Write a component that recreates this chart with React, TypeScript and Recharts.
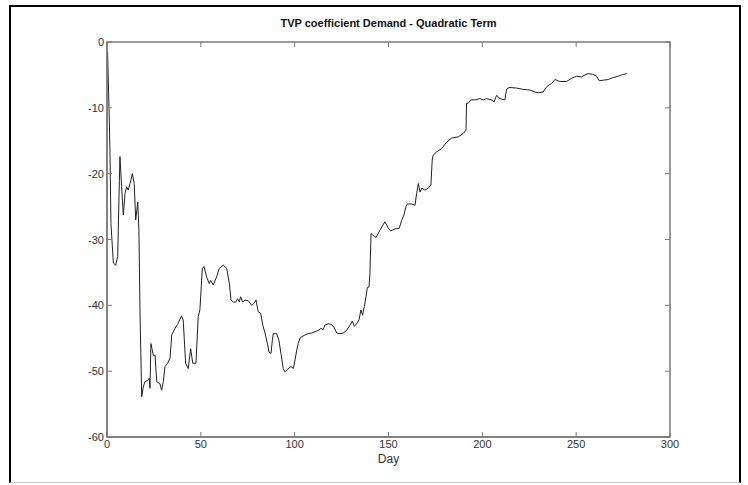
import { LineChart, Line, XAxis, YAxis, ReferenceArea } from 'recharts'

// TVP coefficient (quadratic demand term)
const days = [
  0.3, 1.1, 1.6, 2.1, 3.4, 4.6, 5.7, 6.0, 6.6, 6.9,
  7.8, 8.7, 9.6, 10.5, 11.3, 12.3, 13.5, 14.5, 15.3, 16.4,
  17.0, 17.6, 18.5, 19.3, 20.2, 21.7, 22.5, 22.9, 23.4, 24.7,
  25.6, 26.5, 28.2, 29.1, 30.0, 30.9, 32.3, 33.6, 34.5, 36.2,
  37.6, 39.7, 40.6, 41.9, 43.3, 44.6, 45.7, 47.4, 48.6, 49.5,
  50.8, 51.7, 53.1, 54.5, 55.2, 56.6, 58.4, 59.8, 62.0, 63.8,
  65.2, 66.1, 67.3, 68.6, 69.6, 70.5, 71.2, 72.3, 73.5, 75.3,
  77.1, 78.3, 79.4, 80.6, 81.9, 83.0, 84.2, 85.6, 86.3, 87.4,
  88.1, 88.6, 90.4, 91.6, 92.7, 93.9, 94.8, 96.3, 98.0, 99.3,
  100.2, 101.1, 101.9, 102.8, 103.7, 105.5, 107.2, 109.1, 110.8, 112.6,
  114.0, 115.2, 116.1, 117.9, 119.7, 121.1, 122.4, 124.1, 125.9, 127.7,
  129.5, 130.7, 131.8, 133.0, 134.3, 135.3, 136.2, 137.1, 138.0, 138.7,
  139.6, 140.1, 140.7, 141.6, 143.3, 145.4, 148.1, 149.9, 151.1, 153.4,
  155.7, 157.0, 158.2, 159.3, 160.0, 162.3, 164.1, 165.0, 165.9, 166.8,
  167.7, 169.4, 171.2, 172.6, 173.3, 173.8, 175.6, 178.3, 181.0, 183.6,
  187.2, 189.8, 191.3, 191.6, 192.5, 193.8, 196.1, 198.7, 200.5, 202.3,
  205.0, 206.2, 207.6, 209.4, 212.0, 212.9, 214.3, 218.3, 221.8, 225.4,
  228.0, 229.8, 232.4, 234.3, 235.6, 236.9, 238.7, 241.3, 244.9, 247.6,
  250.2, 252.9, 254.7, 256.4, 258.8, 260.9, 262.3, 264.4, 267.1, 269.7,
  272.4, 274.2, 276.9,
]

const values = [
  -1.5, -10.3, -16.9, -27.6, -33.6, -33.9, -32.6, -28.6, -21, -17.4,
  -22, -26.3, -23, -22, -22.5, -21.5, -20, -21.5, -27, -24.3,
  -28.6, -41.2, -53.9, -52.4, -51.6, -51.4, -51.1, -52.6, -45.8, -47.6,
  -47.6, -51.6, -51.9, -52.9, -51.6, -49.3, -48.8, -48, -44.5, -43.5,
  -42.9, -41.6, -42.2, -48.8, -49.6, -46.6, -48.8, -48.8, -41.7, -40.7,
  -34.4, -34.1, -35.7, -36.7, -36.2, -36.9, -35.7, -34.4, -33.9, -34.4,
  -36.7, -39.2, -39.5, -39.5, -39, -39.5, -38.7, -39.5, -39.2, -39.3,
  -40, -39.7, -39.2, -41, -41.2, -43, -44.2, -46, -47.1, -47.3,
  -45.3, -44.3, -44.3, -45.3, -47.3, -49.6, -50.1, -49.7, -49.3, -49.6,
  -48.3, -46.8, -45.8, -45, -44.8, -44.5, -44.3, -44.2, -44, -43.8,
  -43.5, -43.7, -43, -42.8, -42.9, -43.4, -44.2, -44.3, -44.2, -43.8,
  -43, -42.4, -43.2, -42.8, -42.2, -40.7, -41.5, -40.2, -38.7, -37.3,
  -37.2, -35.2, -29.1, -29.3, -29.7, -28.6, -27.3, -28.3, -28.7, -28.4,
  -28.3, -27.1, -26.3, -25, -24.6, -24.6, -24.8, -23, -21.5, -22.8,
  -22.2, -22.5, -22.2, -21.7, -17.9, -17.2, -16.7, -16.2, -15.2, -14.6,
  -14.4, -13.9, -13.4, -9.3, -9.3, -8.8, -8.8, -8.6, -8.8, -8.6,
  -8.8, -9.1, -8.1, -8.6, -8.8, -7.2, -6.9, -7, -7.2, -7.3,
  -7.6, -7.7, -7.6, -6.8, -6.5, -6.3, -5.7, -6, -6, -5.5,
  -5.2, -5.3, -5, -4.8, -4.9, -5.2, -5.9, -5.8, -5.7, -5.4,
  -5.2, -5, -4.8,
]

const xTicks = [0, 50, 100, 150, 200, 250, 300]
const yTicks = [-60, -50, -40, -30, -20, -10, 0]

const data = days.map((d, i) => ({ day: d, value: values[i] }))

const W = 748
const H = 485
const PLOT_LEFT = 107
const PLOT_RIGHT = 670
const PLOT_TOP = 42
const PLOT_BOTTOM = 437
const TICK_LEN = 5
const AXIS = '#7a7a7a'
const LABEL = '#333'
const FONT = '"Liberation Sans", Arial, sans-serif'

function XTick({ x, payload }: { x?: number; payload?: { value: number } }) {
  if (x == null || !payload) return null
  return (
    <g>
      <line x1={x} x2={x} y1={PLOT_BOTTOM} y2={PLOT_BOTTOM - TICK_LEN} stroke={AXIS} />
      <line x1={x} x2={x} y1={PLOT_TOP} y2={PLOT_TOP + TICK_LEN} stroke={AXIS} />
      <text x={x} y={PLOT_BOTTOM + 11} textAnchor="middle" fontSize={11} fill={LABEL} fontFamily={FONT}>
        {payload.value}
      </text>
    </g>
  )
}

function YTick({ y, payload }: { y?: number; payload?: { value: number } }) {
  if (y == null || !payload) return null
  return (
    <g>
      <line x1={PLOT_LEFT} x2={PLOT_LEFT + TICK_LEN} y1={y} y2={y} stroke={AXIS} />
      <line x1={PLOT_RIGHT} x2={PLOT_RIGHT - TICK_LEN} y1={y} y2={y} stroke={AXIS} />
      <text x={PLOT_LEFT - 3} y={y + 4} textAnchor="end" fontSize={11} fill={LABEL} fontFamily={FONT}>
        {payload.value}
      </text>
    </g>
  )
}

export default function App() {
  return (
    <div style={{ position: 'absolute', left: 0, top: 0, width: W, height: H, background: '#fff' }}>
      <div
        style={{
          position: 'absolute',
          left: 9,
          top: 5,
          width: 728,
          height: 475,
          borderLeft: '2px solid #000',
          borderTop: '2px solid #000',
          borderRight: '2px solid #000',
          borderBottom: '1px solid #ccc',
        }}
      />
      <div style={{ position: 'absolute', left: 0, top: 0 }}>
        <LineChart
          width={W}
          height={H}
          data={data}
          margin={{ top: PLOT_TOP, right: W - PLOT_RIGHT, bottom: 0, left: 0 }}
        >
          <text
            x={(PLOT_LEFT + PLOT_RIGHT) / 2}
            y={27}
            textAnchor="middle"
            fontSize={11}
            fontWeight="bold"
            fill="#111"
            fontFamily={FONT}
          >
            TVP coefficient Demand - Quadratic Term
          </text>
          <text
            x={(PLOT_LEFT + PLOT_RIGHT) / 2}
            y={463}
            textAnchor="middle"
            fontSize={12}
            fill={LABEL}
            fontFamily={FONT}
          >
            Day
          </text>
          <XAxis
            dataKey="day"
            type="number"
            domain={[0, 300]}
            ticks={xTicks}
            interval={0}
            height={H - PLOT_BOTTOM}
            axisLine={{ stroke: AXIS, strokeWidth: 1.5 }}
            tickLine={false}
            tick={<XTick />}
          />
          <YAxis
            type="number"
            domain={[-60, 0]}
            ticks={yTicks}
            interval={0}
            width={PLOT_LEFT}
            axisLine={{ stroke: AXIS, strokeWidth: 1.5 }}
            tickLine={false}
            tick={<YTick />}
          />
          <ReferenceArea
            x1={0}
            x2={300}
            y1={-60}
            y2={0}
            fill="none"
            stroke={AXIS}
            strokeWidth={1.5}
            fillOpacity={0}
          />
          <Line
            type="linear"
            dataKey="value"
            stroke="#222"
            strokeWidth={1}
            dot={false}
            isAnimationActive={false}
          />
        </LineChart>
      </div>
    </div>
  )
}
